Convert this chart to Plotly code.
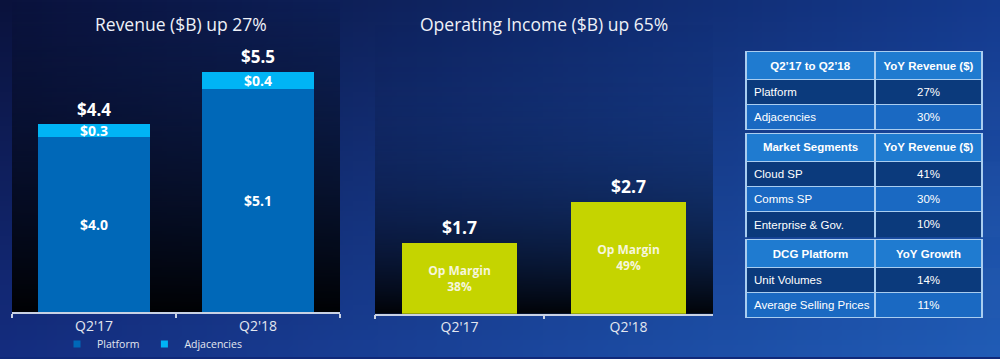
import zlib, struct, base64
import plotly.graph_objects as go

# ---------------- data ----------------
quarters = ["Q2'17", "Q2'18"]
platform = [4.0, 5.1]
adjacencies = [0.3, 0.4]
revenue_total = [4.4, 5.5]
op_income = [1.7, 2.7]
op_margin = [38, 49]

t1_head = ["Q2\u201917 to Q2\u201918", "YoY Revenue ($)"]
t1_rows = ["Platform", "Adjacencies"]
t1_vals = ["27%", "30%"]
t2_head = ["Market Segments", "YoY Revenue ($)"]
t2_rows = ["Cloud SP", "Comms SP", "Enterprise & Gov."]
t2_vals = ["41%", "30%", "10%"]
t3_head = ["DCG Platform", "YoY Growth"]
t3_rows = ["Unit Volumes", "Average Selling Prices"]
t3_vals = ["14%", "11%"]

W, H = 1000, 359
C_PLAT = "#0068b8"
C_ADJ = "#00b4f5"
C_OP = "#c5d400"
FONT = "Open Sans"
TFONT = "Liberation Sans, Arial"


def png_uri(w, h, pix, alpha=False):
    raw = b"".join(
        b"\x00" + bytes([c for x in range(w) for c in pix(x, y)]) for y in range(h)
    )

    def chunk(t, d):
        c = struct.pack(">I", len(d)) + t + d
        return c + struct.pack(">I", zlib.crc32(t + d) & 0xFFFFFFFF)

    ctype = 6 if alpha else 2
    png = (
        b"\x89PNG\r\n\x1a\n"
        + chunk(b"IHDR", struct.pack(">IIBBBBB", w, h, 8, ctype, 0, 0, 0))
        + chunk(b"IDAT", zlib.compress(raw))
        + chunk(b"IEND", b"")
    )
    return "data:image/png;base64," + base64.b64encode(png).decode()


def lerp(a, b, t):
    return tuple(int(round(a[i] + (b[i] - a[i]) * t)) for i in range(3))


# background 2D gradient
TL, TR, BL, BR = (10, 18, 60), (20, 58, 142), (20, 45, 128), (32, 92, 182)


def bg_pix(x, y):
    fx, fy = x / 199, y / 71
    top = lerp(TL, TR, fx)
    bot = lerp(BL, BR, fx)
    return lerp(top, bot, fy)


bg_img = png_uri(200, 72, bg_pix)


def shade(amax, gamma):
    # black overlay whose opacity grows downward
    return png_uri(
        1, 96,
        lambda x, y: (0, 0, 0, int(round(255 * amax * (y / 95) ** gamma))),
        alpha=True,
    )


left_panel = shade(0.97, 0.9)
right_panel = shade(0.94, 2.3)


def py(px):
    return 1 - px / H


def nb(s):
    return s.replace(" ", "\u00a0")


fig = go.Figure()

# left: revenue stacked bars
fig.add_bar(
    x=quarters, y=platform, name="Platform", marker=dict(color=C_PLAT, line_width=0),
    text=[f"${v:.1f}" for v in platform], textposition="inside",
    insidetextanchor="middle", constraintext="none",
    textfont=dict(family=FONT, size=14, color="white", weight="bold"),
    xaxis="x", yaxis="y", showlegend=False, hoverinfo="skip",
)
fig.add_bar(
    x=quarters, y=adjacencies, name="Adjacencies", marker=dict(color=C_ADJ, line_width=0),
    text=[f"${v:.1f}" for v in adjacencies], textposition="inside",
    insidetextanchor="middle", constraintext="none",
    textfont=dict(family=FONT, size=14, color="white", weight="bold"),
    xaxis="x", yaxis="y", showlegend=False, hoverinfo="skip",
)
# legend entries
for nm, col in [("Platform", C_PLAT), ("Adjacencies", C_ADJ)]:
    fig.add_scatter(
        x=[None], y=[None], mode="markers", name=nm,
        marker=dict(symbol="square", size=7, color=col),
        xaxis="x", yaxis="y",
    )

# right: operating income
fig.add_bar(
    x=quarters, y=op_income, name="Operating Income", marker=dict(color=C_OP, line_width=0),
    text=[f"Op Margin<br>{m}%" for m in op_margin], textposition="inside",
    insidetextanchor="middle", constraintext="none",
    textfont=dict(family=FONT, size=12, color="#f6f6dc", weight="bold"),
    xaxis="x2", yaxis="y2", showlegend=False, hoverinfo="skip",
)

annotations = []
for q, p, a, t in zip(quarters, platform, adjacencies, revenue_total):
    annotations.append(dict(
        x=q, y=p + a, xref="x", yref="y", text=f"${t:.1f}", showarrow=False,
        yanchor="middle", yshift=15,
        font=dict(family=FONT, size=17, color="white", weight="bold"),
    ))
for q, v in zip(quarters, op_income):
    annotations.append(dict(
        x=q, y=v, xref="x2", yref="y2", text=f"${v:.1f}", showarrow=False,
        yanchor="middle", yshift=16,
        font=dict(family=FONT, size=17.5, color="white", weight="bold"),
    ))
annotations.append(dict(
    x=181 / W, y=py(24), xref="paper", yref="paper", text="Revenue ($B) up 27%",
    showarrow=False, xanchor="center", yanchor="middle",
    font=dict(family=FONT, size=17.5, color="#eef1f8"),
))
annotations.append(dict(
    x=544 / W, y=py(24), xref="paper", yref="paper",
    text="Operating Income ($B) up 65%", xanchor="center", yanchor="middle",
    showarrow=False, font=dict(family=FONT, size=17.5, color="#eef1f8"),
))

# tables
DARK, LIGHT, HEAD, LINE = "#0b3a7c", "#1a69c2", "#1f7bd0", "#a9cdf0"


def add_table(head, rows, vals, top_px):
    n = len(rows)
    bot_px = top_px + 24 + 25 * n
    fills = [DARK if i % 2 == 0 else LIGHT for i in range(n)]
    fig.add_trace(go.Table(
        domain=dict(x=[746 / W, 982 / W], y=[py(bot_px + 6), py(top_px)]),
        columnwidth=[129, 107],
        header=dict(
            values=[f"<b>{nb(h)}</b>" for h in head], fill_color=HEAD,
            line=dict(color=LINE, width=1.5), align="center", height=24,
            font=dict(family=TFONT, size=11.5, color="white"),
        ),
        cells=dict(
            values=[[nb(r) for r in rows], vals], fill_color=[fills, fills],
            line=dict(color=LINE, width=1.5), align=["left", "center"], height=25,
            font=dict(family=TFONT, size=11.5, color="white"),
        ),
    ))


add_table(t1_head, t1_rows, t1_vals, 52)
add_table(t2_head, t2_rows, t2_vals, 134)
add_table(t3_head, t3_rows, t3_vals, 241)

axis_common = dict(
    showline=True, linecolor="#c9d2e4", linewidth=1.5, ticks="outside",
    tickson="boundaries", ticklen=4, tickcolor="#c9d2e4", tickwidth=1.5,
    showgrid=False, zeroline=False, fixedrange=True,
    tickfont=dict(family=FONT, size=14, color="#e3e7f0"),
)

fig.update_layout(
    width=W, height=H, margin=dict(l=0, r=0, t=0, b=0),
    paper_bgcolor="#102a7a", plot_bgcolor="rgba(0,0,0,0)",
    barmode="stack", bargap=0.32,
    xaxis=dict(domain=[12 / W, 340 / W], anchor="y", **axis_common),
    yaxis=dict(domain=[py(314), py(40)], range=[0, 274 / 44], visible=False,
               fixedrange=True),
    xaxis2=dict(domain=[375 / W, 713 / W], anchor="y2", **axis_common),
    yaxis2=dict(domain=[py(315.5), py(40)], range=[0, 275.5 / 41.8],
                visible=False, fixedrange=True),
    legend=dict(orientation="h", x=0.057, xanchor="left", y=py(346),
                yanchor="middle", bgcolor="rgba(0,0,0,0)", itemwidth=30,
                traceorder="normal",
                font=dict(family=FONT, size=10.5, color="#e3e7f0")),
    annotations=annotations,
    images=[
        dict(source=bg_img, xref="paper", yref="paper", x=0, y=1, sizex=1,
             sizey=1, sizing="stretch", xanchor="left", yanchor="top",
             layer="below"),
        dict(source=left_panel, xref="paper", yref="paper", x=12 / W, y=1,
             sizex=328 / W, sizey=314 / H, sizing="stretch",
             xanchor="left", yanchor="top", layer="below"),
        dict(source=right_panel, xref="paper", yref="paper", x=375 / W,
             y=1, sizex=338 / W, sizey=315.5 / H, sizing="stretch",
             xanchor="left", yanchor="top", layer="below"),
    ],
    showlegend=True,
)

fig.write_html(
    "out.html", config={"displayModeBar": False},
    post_script="document.body.style.margin='0';document.body.style.overflow='hidden';",
)
